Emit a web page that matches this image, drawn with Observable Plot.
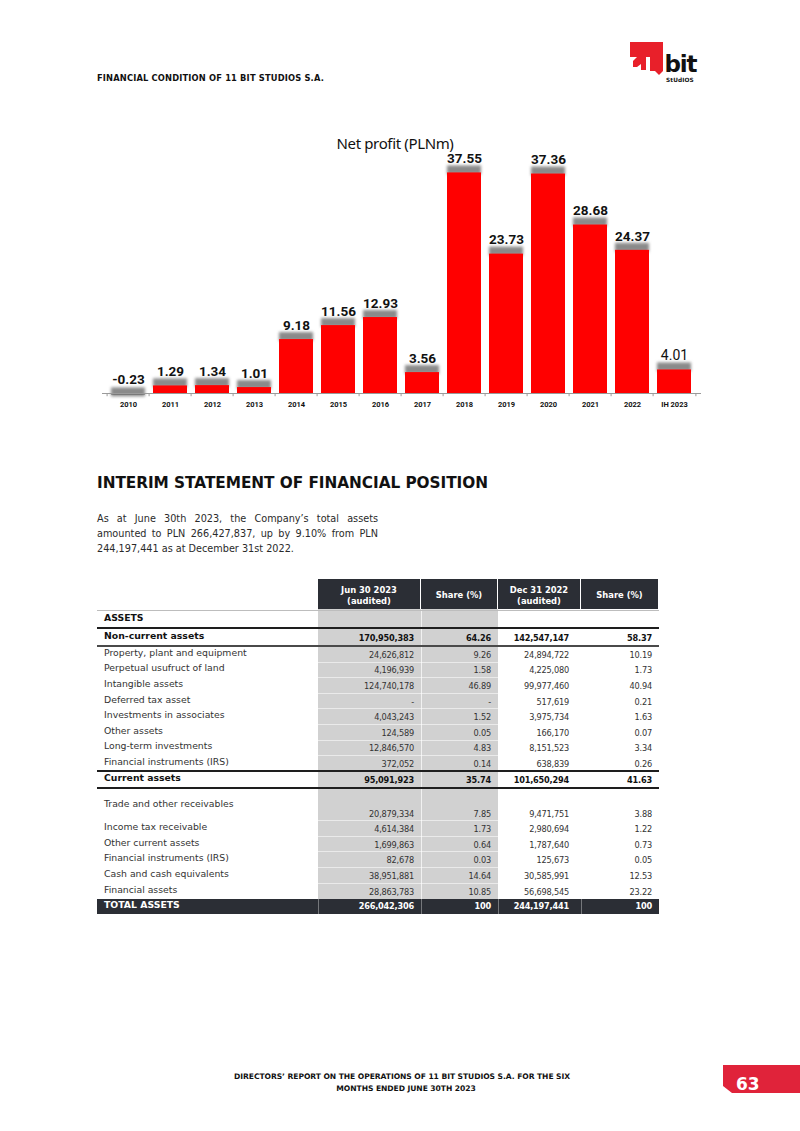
<!DOCTYPE html>
<html><head><meta charset="utf-8">
<script src="https://cdn.jsdelivr.net/npm/d3@7"></script>
<script src="https://cdn.jsdelivr.net/npm/@observablehq/plot@0.6"></script>
<style>
html,body{margin:0;padding:0;background:#fff;}
#page{position:relative;width:800px;height:1131px;overflow:hidden;font-family:"DejaVu Sans",sans-serif;color:#1a1a1a;}
.abs{position:absolute;white-space:nowrap;}
</style></head><body><div id="page"></div>
<script>
// ---------- DATA ----------
const years = ["2010","2011","2012","2013","2014","2015","2016","2017","2018","2019","2020","2021","2022","IH 2023"];
const netProfit = [-0.23,1.29,1.34,1.01,9.18,11.56,12.93,3.56,37.55,23.73,37.36,28.68,24.37,4.01];

const headerCols = [["Jun 30 2023","(audited)"],["Share (%)"],["Dec 31 2022","(audited)"],["Share (%)"]];
const rowLabels = ["ASSETS","Non-current assets","Property, plant and equipment","Perpetual usufruct of land","Intangible assets","Deferred tax asset","Investments in associates","Other assets","Long-term investments","Financial instruments (IRS)","Current assets","Trade and other receivables","Income tax receivable","Other current assets","Financial instruments (IRS)","Cash and cash equivalents","Financial assets","TOTAL ASSETS"];
const jun2023 = ["","170,950,383","24,626,812","4,196,939","124,740,178","-","4,043,243","124,589","12,846,570","372,052","95,091,923","20,879,334","4,614,384","1,699,863","82,678","38,951,881","28,863,783","266,042,306"];
const shareJun = ["","64.26","9.26","1.58","46.89","-","1.52","0.05","4.83","0.14","35.74","7.85","1.73","0.64","0.03","14.64","10.85","100"];
const dec2022 = ["","142,547,147","24,894,722","4,225,080","99,977,460","517,619","3,975,734","166,170","8,151,523","638,839","101,650,294","9,471,751","2,980,694","1,787,640","125,673","30,585,991","56,698,545","244,197,441"];
const shareDec = ["","58.37","10.19","1.73","40.94","0.21","1.63","0.07","3.34","0.26","41.63","3.88","1.22","0.73","0.05","12.53","23.22","100"];
const boldRows = ["ASSETS","Non-current assets","Current assets","TOTAL ASSETS"];

const headerText = "FINANCIAL CONDITION OF 11 BIT STUDIOS S.A.";
const sectionTitle = "INTERIM STATEMENT OF FINANCIAL POSITION";
const paragraphLines = ["As at June 30th 2023, the Company\u2019s total assets","amounted to PLN 266,427,837, up by 9.10% from PLN","244,197,441 as at December 31st 2022."];
const footerLines = ["DIRECTORS\u2019 REPORT ON THE OPERATIONS OF 11 BIT STUDIOS S.A.  FOR THE SIX","MONTHS ENDED JUNE 30TH 2023"];
const pageNumber = "63";
const chartTitle = "Net profit (PLNm)";

// ---------- HELPERS ----------
const page = document.getElementById("page");
function el(css, text, parent = page, tag = "div") {
  const e = document.createElement(tag);
  e.className = "abs";
  Object.assign(e.style, css);
  if (text != null) e.textContent = text;
  parent.appendChild(e);
  return e;
}
function fitWidth(e, w) {
  const n = e.textContent.length;
  const cur = e.getBoundingClientRect().width;
  e.style.letterSpacing = ((w - cur) / n) + "px";
}
function textAt(text, x, cy, size, css = {}) {
  const h = Math.ceil(size * 1.4);
  return el(Object.assign({left: x + "px", top: (cy - h / 2) + "px", height: h + "px", lineHeight: h + "px", fontSize: size + "px"}, css), text);
}

// ---------- HEADER ----------
const ht = textAt(headerText, 97, 78, 8.3, {fontWeight: 700, color: "#111"});
fitWidth(ht, 227);

// logo
const logo = document.createElementNS("http://www.w3.org/2000/svg", "svg");
logo.setAttribute("width", 90); logo.setAttribute("height", 50);
logo.style.position = "absolute"; logo.style.left = "625px"; logo.style.top = "38px";
logo.innerHTML = `
 <path d="M5 4 H38 V19 H5 Z" fill="#e8202a"/>
 <path d="M25 19 H38 V33 L34 37 L30 33 H25 Z" fill="#e8202a"/>
 <path d="M8 23 L12 19 H21 V32 H16 V26 L12 29 H8 Z" fill="#e8202a"/>
 <text x="39.5" y="34" font-family="DejaVu Sans" font-weight="bold" font-size="23" fill="#111" letter-spacing="-1.2">bit</text>
 <text x="41" y="44" font-family="DejaVu Sans" font-weight="bold" font-size="5.8" fill="#111" letter-spacing="0.1">StUdIOS</text>`;
page.appendChild(logo);

// ---------- CHART ----------
const ct = textAt(chartTitle, 0, 143, 15, {fontFamily: "'Noto Sans'", color: "#111"});
fitWidth(ct, 117);
ct.style.left = (395 - 117 / 2) + "px";

const data = years.map((y, i) => ({year: y, value: netProfit[i]}));
const ML = 102, MR = 99, W = 800, H = 285;
const step = (W - ML - MR) / years.length;
const last = data[data.length - 1];

const chart = Plot.plot({
  width: W, height: H,
  marginLeft: ML, marginRight: MR, marginTop: 23, marginBottom: 27,
  x: {domain: years, paddingInner: 0.18, paddingOuter: 0.09, label: null, tickSize: 0, tickPadding: 8},
  y: {domain: [0, 40], axis: null},
  style: {fontFamily: "Roboto", fontSize: "7.5px", fontWeight: "bold", color: "#111", background: "transparent", overflow: "visible"},
  marks: [
    Plot.barY(data, {x: "year", y1: "value", y2: "value", insetTop: -7, insetBottom: -2, fill: "#8a8a8a", ariaLabel: "shadow"}),
    Plot.barY(data.filter(d => d.value >= 0), {x: "year", y: "value", fill: "#ff0000"}),
    Plot.barY(data.filter(d => d.value < 0), {x: "year", y: "value", fill: "#444"}),
    Plot.ruleY([0], {stroke: "#9a9a9a", strokeWidth: 1}),
    Plot.ruleX(data, {x: "year", y1: 0, y2: -0.55, dx: -step / 2, stroke: "#9a9a9a"}),
    Plot.ruleX([last], {x: "year", y1: 0, y2: -0.55, dx: step / 2, stroke: "#9a9a9a"}),
    Plot.text(data.filter(d => d !== last), {x: "year", y: d => Math.max(0, d.value), text: d => d.value.toFixed(2), dy: -14, fontSize: 13.5, fontWeight: "bold", fontFamily: "Roboto", fill: "#111"}),
    Plot.text([last], {x: "year", y: "value", text: d => d.value.toFixed(2), dy: -14, fontSize: 14, fontWeight: "normal", fontFamily: "Roboto", fill: "#111"})
  ]
});
chart.style.position = "absolute";
chart.style.left = "0px";
chart.style.top = "135px";
page.appendChild(chart);
{
  const svgEl = chart.tagName.toLowerCase() === "svg" ? chart : chart.querySelector("svg");
  const svg = d3.select(svgEl);
  const defs = svg.insert("defs", ":first-child");
  defs.append("filter").attr("id", "barShadow").attr("filterUnits", "userSpaceOnUse")
    .attr("x", 0).attr("y", 0).attr("width", W).attr("height", H)
    .append("feGaussianBlur").attr("stdDeviation", 1.8);
  svg.selectAll("g").filter(function () {
    return this.getAttribute("aria-label") === "shadow" || this.getAttribute("fill") === "#8a8a8a";
  }).attr("filter", "url(#barShadow)");
}

// ---------- SECTION TITLE & PARAGRAPH ----------
const st = textAt(sectionTitle, 97, 483, 15.3, {fontWeight: 700, color: "#111"});
fitWidth(st, 391);
paragraphLines.forEach((line, i) => {
  el({left: "97px", top: (510.5 + i * 15) + "px", width: "281px", fontSize: "9.7px", lineHeight: "15px", color: "#2a2a2a",
    whiteSpace: "nowrap", textAlign: i < 2 ? "justify" : "left", textAlignLast: i < 2 ? "justify" : "left"}, line);
});

// ---------- TABLE ----------
const colX = [97, 318, 421, 498, 581, 659];
const padR = [7, 7, 12, 7];
const rowH = [19, 18, 15.6, 15.6, 15.6, 15.6, 15.6, 15.6, 15.6, 15.6, 17, 32, 15.8, 15.8, 15.8, 15.8, 15.8, 15];
const tableTop = 609;
const rowTop = []; {let y = tableTop; rowH.forEach(h => {rowTop.push(y); y += h;});}
const rect = (x, y, w, h, bg) => el({left: x + "px", top: y + "px", width: w + "px", height: h + "px", background: bg});

headerCols.forEach((lines, c) => {
  const x0 = colX[c + 1], x1 = colX[c + 2];
  rect(x0, 579, x1 - x0 - 1, 30, "#2b2e35");
  lines.forEach((t, k) => {
    const cy = lines.length === 1 ? 595 : 589.5 + k * 11;
    textAt(t, x0, cy, 8.4, {width: (x1 - x0 - 1) + "px", textAlign: "center", color: "#fff", fontWeight: 700});
  });
});
const totalIdx = rowLabels.length - 1;
rect(colX[1], tableTop, colX[3] - colX[1], rowTop[totalIdx] - tableTop, "#d1d1d1");
for (let i = 1; i < totalIdx; i++) rect(colX[1], rowTop[i], colX[3] - colX[1], 1, "rgba(255,255,255,0.55)");
rect(colX[2], tableTop, 1, rowTop[totalIdx] - tableTop, "rgba(255,255,255,0.7)");
rect(colX[0], rowTop[totalIdx], colX[5] - colX[0], rowH[totalIdx], "#2b2e35");
[1, 2, 3, 4].forEach(c => rect(colX[c], rowTop[totalIdx], 1, rowH[totalIdx], "rgba(255,255,255,0.35)"));
rect(colX[0], 609.5, colX[5] - colX[0], 1, "#bdbdbd");
rect(colX[0], 626.5, colX[5] - colX[0], 2, "#1e1e1e");
rect(colX[0], 644.5, colX[5] - colX[0], 2, "#4a4a4a");
rect(colX[0], 770, colX[5] - colX[0], 2, "#1e1e1e");
rect(colX[0], 786.5, colX[5] - colX[0], 2, "#1e1e1e");

const valueCols = [jun2023, shareJun, dec2022, shareDec];
rowLabels.forEach((lab, i) => {
  const bold = boldRows.includes(lab);
  const isTotal = i === totalIdx;
  const top = rowTop[i], h = rowH[i], cy = top + h / 2;
  const labelY = i === 11 ? top + 16 : cy - 1;
  const valY = i === 11 ? top + 26 : cy + (isTotal ? 0 : 1);
  const color = isTotal ? "#fff" : (bold ? "#111" : "#333");
  textAt(lab, 104, labelY, 9.3, {fontWeight: bold ? 700 : 400, color});
  valueCols.forEach((col, c) => {
    const v = col[i];
    if (!v) return;
    const x1 = colX[c + 2] - padR[c];
    const e = textAt(v, 0, valY, 8.2, {fontWeight: bold ? 700 : 400, color, letterSpacing: "-0.2px"});
    e.style.left = (x1 - e.getBoundingClientRect().width) + "px";
  });
});

// ---------- FOOTER ----------
const f1 = textAt(footerLines[0], 0, 1076, 7.6, {fontWeight: 700, color: "#111"});
fitWidth(f1, 336);
f1.style.left = (402 - 336 / 2) + "px";
const f2 = textAt(footerLines[1], 0, 1088, 7.6, {fontWeight: 700, color: "#111", letterSpacing: f1.style.letterSpacing});
const w2 = f2.getBoundingClientRect().width;
f2.style.left = (406 - w2 / 2) + "px";

el({left: "723px", top: "1065px", width: "77px", height: "28px", background: "#e0233a",
  clipPath: "polygon(0 0, 100% 0, 100% 100%, 9px 100%, 0 75%)"});
textAt(pageNumber, 736, 1084, 17, {fontWeight: 700, color: "#fff"});
</script></body></html>
